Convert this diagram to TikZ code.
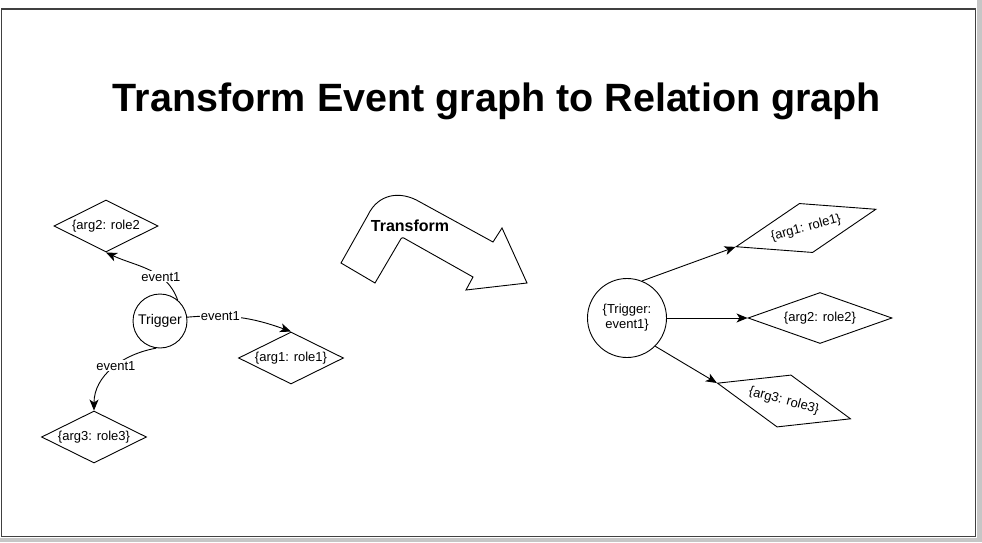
\documentclass[tikz,border=0pt]{standalone}
\usepackage{fontspec}
\setmainfont{Liberation Sans}
\usetikzlibrary{shapes.geometric, arrows.meta, positioning}
\tikzset{
	argbox/.style={draw, diamond, aspect=2.2, inner sep=0pt, minimum width=105pt, minimum height=52pt, line width=0.9pt, font=\fontsize{13}{15}\selectfont}
}
\tikzset{
	trigbox/.style={draw, circle, inner sep=0pt, line width=0.9pt, align=center, font=\fontsize{13}{15}\selectfont}
}
\tikzset{
	evlink/.style={line width=0.9pt, -{Stealth[length=11pt,width=9pt,inset=3pt]}},
	evlabel/.style={fill=white, inner sep=1pt, font=\fontsize{13}{15}\selectfont}
}

\begin{document}
\begin{tikzpicture}[x=1pt, y=1pt]
      \useasboundingbox (0,0) rectangle (982,542);
      % page frame
      \fill[gray!45] (977,0) rectangle (982,542);
      \fill[gray!45] (0,0) rectangle (982,4);
      \draw[black!75, line width=1.5pt] (1.5,533) rectangle (975.5,5.5);
      \node[anchor=base, font=\bfseries\fontsize{39.5}{46}\selectfont] (title) at (497,430) {Transform Event graph to Relation graph};

      % event graph
      \node[trigbox, minimum size=54pt, font=\fontsize{14}{16}\selectfont] (trig) at (160,221) {Trigger};
      \node[argbox, minimum width=104pt] (arg2) at (106,316) {\{arg2: role2};
      \node[argbox] (arg1) at (291,184) {\{arg1: role1\}};
      \node[argbox] (arg3) at (94,105) {\{arg3: role3\}};
      \draw[evlink] (trig.50) to[out=110, in=-25] node[evlabel, pos=0.33] {event1} (arg2.south);
      \draw[evlink] (trig.8) to[out=5, in=160] node[evlabel, pos=0.3] {event1} (arg1.north);
      \draw[evlink] (trig.262) to[out=190, in=90] node[evlabel, pos=0.45] {event1} (arg3.north);

      % bent arrow
      \draw[line width=0.9pt] (341,279) -- (375,259) [rounded corners=2pt] -- (402,305) [sharp corners] -- (473,265) -- (466,252)
        -- (527,259) -- (502,314) -- (493,300) -- (420,340)
        .. controls (400,352) and (378,348) .. (368,327) -- cycle;
      \node[font=\bfseries\fontsize{16}{18}\selectfont] (tlabel) at (410,316) {Transform};

      % relation graph
      \node[trigbox, minimum size=79pt] (rtrig) at (627,224) {\{Trigger:\\ event1\}};
      \node[argbox, aspect=2.8, minimum width=145pt, minimum height=51pt, rotate=15] (rarg1) at (806,314) {\{arg1: role1\}};
      \node[argbox, aspect=2.8, minimum width=144pt, minimum height=51pt] (rarg2) at (820,224) {\{arg2: role2\}};
      \node[argbox, aspect=2.8, minimum width=138pt, minimum height=54pt, rotate=-15] (rarg3) at (784,141) {\{arg3: role3\}};
      \draw[evlink] (rtrig.68) -- (rarg1.west);
      \draw[evlink] (rtrig.east) -- (rarg2.west);
      \draw[evlink] (rtrig.-45) -- (rarg3.west);
    \end{tikzpicture}
\end{document}
